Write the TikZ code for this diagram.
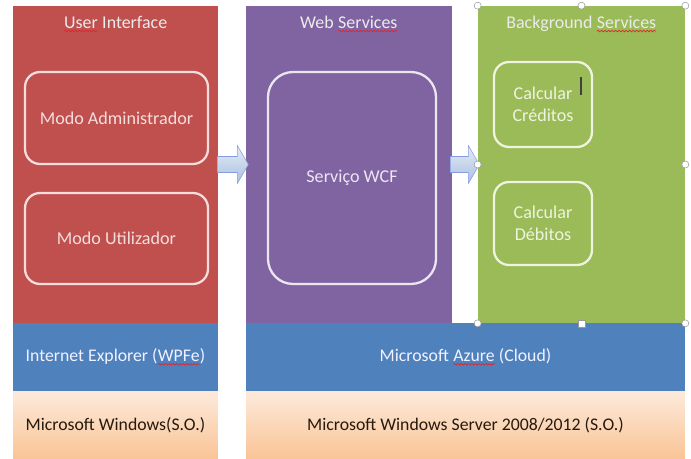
\documentclass[tikz,border=0pt]{standalone}
\usepackage{fontspec}
\setmainfont{Carlito}
\usetikzlibrary{decorations.pathmorphing}

\definecolor{uired}{HTML}{C0504D}
\definecolor{uiedge}{HTML}{F4DEDD}
\definecolor{wspurple}{HTML}{8064A2}
\definecolor{wsedge}{HTML}{ECE6F3}
\definecolor{bggreen}{HTML}{9BBB59}
\definecolor{bgedge}{HTML}{EEF4DF}
\definecolor{platblue}{HTML}{4F81BD}
\definecolor{oslight}{HTML}{FDEADB}
\definecolor{osdark}{HTML}{F9C496}
\definecolor{arrowlight}{HTML}{E4ECF6}
\definecolor{arrowdark}{HTML}{A8C0DF}
\definecolor{spellred}{HTML}{E0252B}

\newcommand\spellerr[1]{\colorlet{keepcol}{.}%
  \tikz[baseline=(w.base),x=1cm,y=1cm]{\node[shape=rectangle,draw=none,fill=none,inner sep=0pt,
    outer sep=0pt,minimum width=0pt,minimum height=0pt,text=keepcol] (w) {#1};
  \draw[spellred,line width=0.4pt,decorate,decoration={snake,amplitude=0.45pt,segment length=2pt}]
    ([yshift=-1.6pt]w.base west) -- ([yshift=-1.6pt]w.base east);}}

\begin{document}
\begin{tikzpicture}[x=0.02cm,y=-0.02cm,
  column/.style={minimum width=#1,minimum height=6.34cm,inner sep=0pt},
  coltitle/.style={text=white!92!black,font=\fontsize{10.2}{12}\selectfont},
  modebox/.style={draw=#1,line width=1.3pt,rounded corners=0.3cm,text=#1,align=center,
    font=\fontsize{10.3}{12.3}\selectfont},
  platbar/.style={fill=platblue,minimum height=1.36cm,inner sep=0pt,text=white!95!blue,
    font=\fontsize{10.1}{12}\selectfont},
  osbar/.style={top color=oslight,bottom color=osdark,minimum height=1.36cm,inner sep=0pt,
    text=black!80!brown,font=\fontsize{10.1}{12}\selectfont},
  blockarrow/.style={top color=arrowlight,bottom color=arrowdark,draw=arrowdark!80!blue,line width=0.3pt},
  handle/.style={fill=white,draw=black!40,line width=0.3pt}]
\useasboundingbox (0,0) rectangle (691,459);

% columns
\node[column=4.1cm,fill=uired] (ui) at (115.5,164.5) {};
\node[column=4.12cm,fill=wspurple] (ws) at (349,164.5) {};
\node[column=4.14cm,fill=bggreen] (bg) at (581.5,164.5) {};

\node[coltitle] (uititle) at (115.5,24) {\spellerr{User} Interface};
\node[coltitle] (wstitle) at (349,24) {Web \spellerr{Services}};
\node[coltitle] (bgtitle) at (581.5,24) {Background \spellerr{Services}};

% boxes
\node[modebox=uiedge,minimum width=3.66cm,minimum height=1.84cm] (adm) at (116.5,118) {Modo Administrador};
\node[modebox=uiedge,minimum width=3.66cm,minimum height=1.82cm] (util) at (116.5,238.5) {Modo Utilizador};
\node[modebox=wsedge,rounded corners=0.5cm,minimum width=3.36cm,minimum height=4.24cm] (wcf) at (352,178) {Serviço WCF};
\node[modebox=bgedge,minimum width=1.96cm,minimum height=1.7cm] (cred) at (543,104.5) {Calcular\\Créditos};
\node[modebox=bgedge,minimum width=1.96cm,minimum height=1.66cm] (deb) at (543,223.5) {Calcular\\Débitos};
\draw[line width=1.2pt,black!75] (581,77) -- (581,95);

% arrows
\shade[blockarrow] (ui.east) +(-1,-8) -- +(19,-8) -- +(19,-19) -- +(30,0) -- +(19,19) -- +(19,8) -- +(-1,8) -- cycle;
\shade[blockarrow] (ws.east) +(-2,-8) -- +(16,-8) -- +(16,-19) -- +(27,0) -- +(16,19) -- +(16,8) -- +(-2,8) -- cycle;

% platform
\node[platbar,minimum width=4.1cm] (ie) at (115.5,357) {Internet Explorer (\spellerr{WPFe})};
\node[platbar,minimum width=8.78cm] (azure) at (465.5,357) {Microsoft \spellerr{Azure} (Cloud)};
\node[osbar,minimum width=4.1cm] (win) at (115.5,425) {Microsoft Windows(S.O.)};
\node[osbar,minimum width=8.78cm] (winsrv) at (465.5,425) {Microsoft Windows Server 2008/2012 (S.O.)};

\foreach \p in {north west,north,north east,west,east,south west,south east}
  \filldraw[handle] (bg.\p) circle[radius=2pt];
\filldraw[handle] ([shift={(-2pt,-2pt)}]bg.south) rectangle +(4pt,4pt);
\end{tikzpicture}
\end{document}
